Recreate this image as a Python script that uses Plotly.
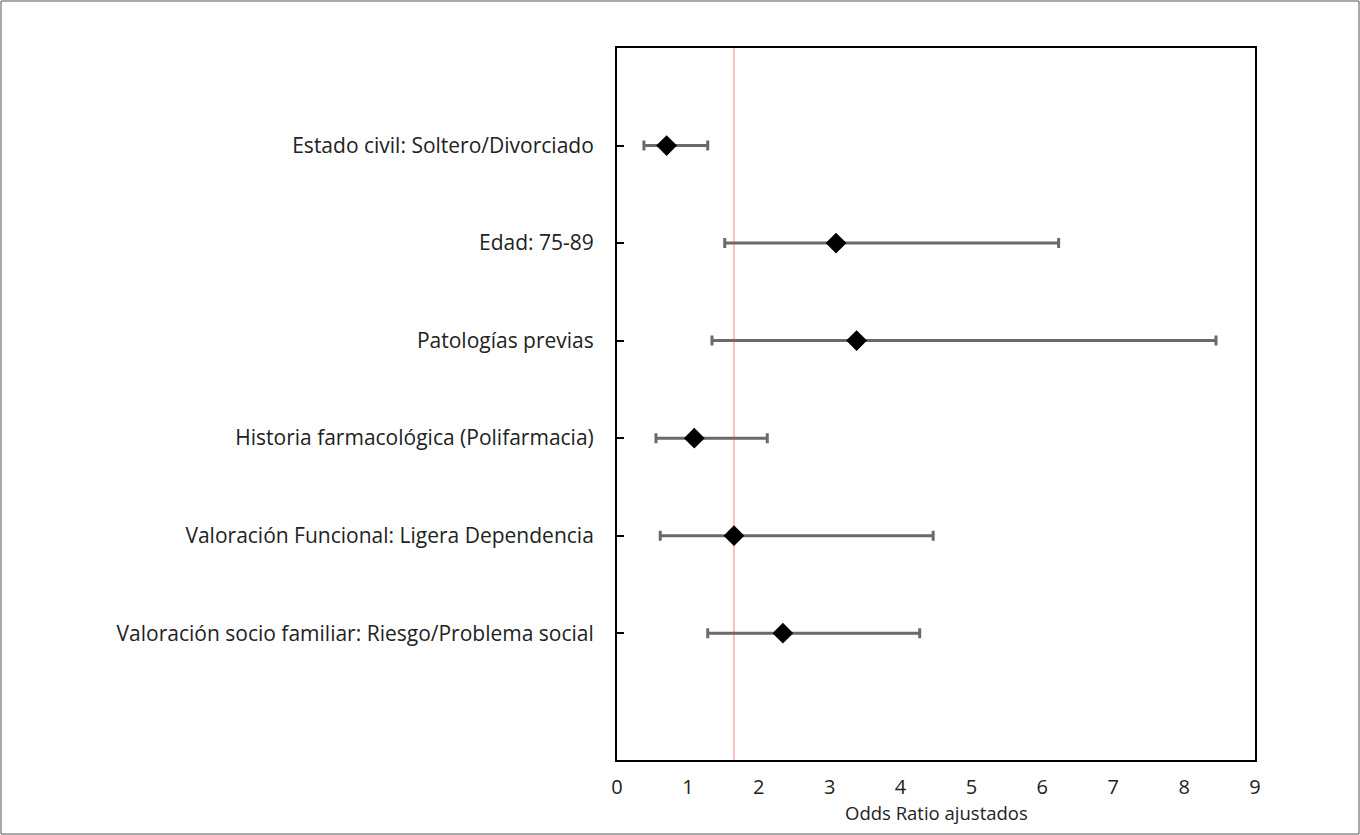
import plotly.graph_objects as go

categories = [
    "Estado civil: Soltero/Divorciado",
    "Edad: 75-89",
    "Patologías previas",
    "Historia farmacológica (Polifarmacia)",
    "Valoración Funcional: Ligera Dependencia",
    "Valoración socio familiar: Riesgo/Problema social",
]
odds_ratio = [0.70, 3.09, 3.38, 1.09, 1.65, 2.34]
ci_low = [0.38, 1.52, 1.34, 0.55, 0.61, 1.28]
ci_high = [1.28, 6.23, 8.45, 2.12, 4.46, 4.27]
positions = [6, 5, 4, 3, 2, 1]
reference_line = 1.65
x_ticks = [0, 1, 2, 3, 4, 5, 6, 7, 8, 9]
x_title = "Odds Ratio ajustados"

W, H = 1360, 835
L, R, T, B = 617, 105, 48, 75
pw, ph = W - L - R, H - T - B

fig = go.Figure()
fig.add_trace(go.Scatter(
    x=odds_ratio, y=positions, mode="markers",
    marker=dict(symbol="diamond", size=16, color="black"),
    error_x=dict(type="data", symmetric=False,
                 array=[h - o for h, o in zip(ci_high, odds_ratio)],
                 arrayminus=[o - l for o, l in zip(odds_ratio, ci_low)],
                 color="#6a6a6a", thickness=3, width=5),
    showlegend=False,
))

# reference vertical line
fig.add_shape(type="line", xref="x", yref="y", x0=reference_line, x1=reference_line,
              y0=7, y1=-0.33, line=dict(color="#ff7f7f", width=1), layer="below")

# outer frame of figure
fig.add_shape(type="rect", xref="paper", yref="paper",
              x0=(-L + 1) / pw, x1=(W - L - 1) / pw,
              y0=(-B + 1) / ph, y1=(H - B - 1) / ph,
              line=dict(color="#555555", width=1))

# x axis title
fig.add_annotation(text=x_title, xref="paper", yref="paper", x=0.5,
                   y=-(812 - (T + ph)) / ph, xanchor="center", yanchor="middle",
                   showarrow=False, font=dict(size=18.5))

font = "Open Sans, sans-serif"
fig.update_layout(
    width=W, height=H,
    margin=dict(l=L, r=R, t=T, b=B),
    paper_bgcolor="white", plot_bgcolor="white",
    font=dict(family=font, size=21, color="#222222"),
    xaxis=dict(range=[0, 9], tickvals=x_ticks, showgrid=False, zeroline=False,
               showline=True, linecolor="black", linewidth=2, mirror=True,
               ticks="", ticklabelstandoff=8, tickfont=dict(size=20)),
    yaxis=dict(range=[-0.3, 7], tickvals=positions, ticktext=categories,
               showgrid=False, zeroline=False,
               showline=True, linecolor="black", linewidth=2, mirror=True,
               ticks="inside", ticklen=7, tickwidth=2, tickcolor="black",
               ticklabelstandoff=17),
)

fig.write_html("out.html", config={"displayModeBar": False},
               post_script="document.body.style.margin='0';")
